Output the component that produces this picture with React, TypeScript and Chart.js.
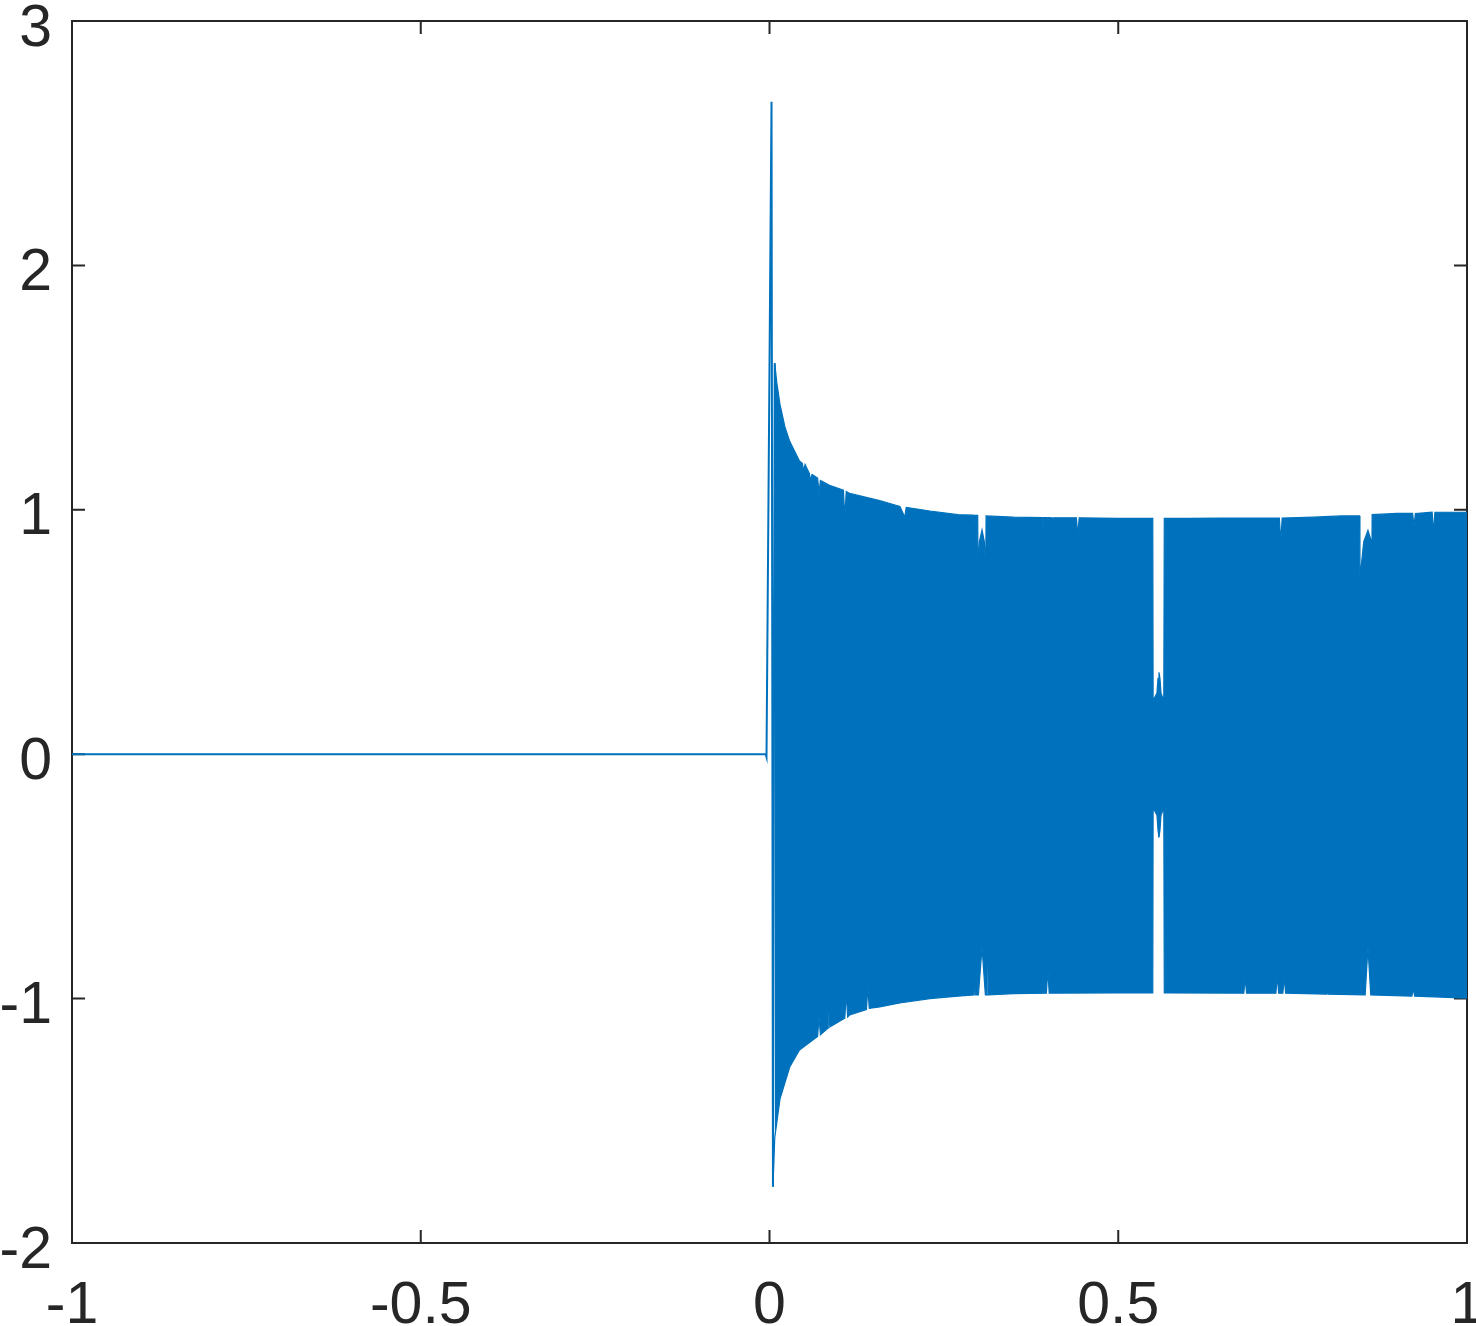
import React, { useEffect, useRef } from "react";
import { Chart, registerables } from "chart.js";

Chart.register(...registerables);

// Axis ticks
const xTickValues = [-1, -0.5, 0, 0.5, 1];
const yTickValues = [-2, -1, 0, 1, 2, 3];
const xTickLabels = ["-1", "-0.5", "0", "0.5", "1"];
const yTickLabels = ["-2", "-1", "0", "1", "2", "3"];

// Flat part and the initial spike
const leadX = [-1, -0.0055, -0.0043, 0.0029, 0.005, 0.0075];
const leadY = [0, 0, -0.012, 2.67, -1.77, 1.6];

// Upper envelope of the dense oscillation
const upperX = [
  0.0075, 0.0105, 0.0151, 0.022, 0.029, 0.043, 0.047, 0.049, 0.051, 0.057, 0.059, 0.061,
  0.069, 0.071, 0.073, 0.086, 0.106, 0.108, 0.11, 0.115, 0.158, 0.187, 0.194, 0.196,
  0.23, 0.27, 0.292, 0.293, 0.294, 0.2985, 0.299, 0.301, 0.3047, 0.308, 0.31, 0.3105,
  0.35, 0.391, 0.392, 0.393, 0.398, 0.399, 0.4, 0.405, 0.406, 0.407, 0.44, 0.442,
  0.444, 0.5, 0.5495, 0.55, 0.5555, 0.557, 0.5584, 0.5598, 0.5613, 0.5653, 0.566, 0.6,
  0.65, 0.7, 0.731, 0.733, 0.735, 0.78, 0.82, 0.846, 0.8465, 0.852, 0.858, 0.863,
  0.8635, 0.864, 0.9, 0.922, 0.924, 0.926, 0.95, 0.952, 0.954, 1.0,
];
const upperY = [
  1.6, 1.52, 1.43, 1.34, 1.28, 1.2, 1.19, 1.16, 1.185, 1.15, 1.12, 1.145,
  1.13, 1.07, 1.12, 1.1, 1.08, 0.965, 1.075, 1.067, 1.038, 1.014, 0.97, 1.01,
  0.995, 0.98, 0.978, 0.936, 0.977, 0.977, 0.75, 0.87, 0.918, 0.87, 0.75, 0.975,
  0.97, 0.968, 0.936, 0.968, 0.968, 0.945, 0.968, 0.967, 0.94, 0.967, 0.967, 0.895,
  0.967, 0.965, 0.965, 0.22, 0.25, 0.31, 0.335, 0.31, 0.25, 0.22, 0.965, 0.965,
  0.966, 0.966, 0.966, 0.867, 0.966, 0.97, 0.975, 0.975, 0.72, 0.87, 0.916, 0.87,
  0.72, 0.98, 0.985, 0.985, 0.935, 0.985, 0.99, 0.908, 0.99, 0.99,
];

// Lower envelope of the dense oscillation
const lowerX = [
  0.005, 0.0075, 0.0151, 0.029, 0.043, 0.069, 0.071, 0.073, 0.084, 0.085, 0.087, 0.108,
  0.11, 0.112, 0.115, 0.139, 0.141, 0.143, 0.158, 0.187, 0.23, 0.27, 0.293, 0.294,
  0.295, 0.2995, 0.3047, 0.3095, 0.312, 0.313, 0.314, 0.35, 0.397, 0.399, 0.401, 0.5,
  0.5495, 0.55, 0.5555, 0.557, 0.5584, 0.5598, 0.5613, 0.5653, 0.566, 0.68, 0.682, 0.684,
  0.726, 0.728, 0.73, 0.736, 0.738, 0.74, 0.799, 0.8, 0.801, 0.854, 0.858, 0.862,
  0.921, 0.923, 0.925, 1.0,
];
const lowerY = [
  -1.77, -1.57, -1.41, -1.28, -1.21, -1.155, -1.075, -1.148, -1.12, -1.055, -1.115, -1.08,
  -0.973, -1.075, -1.067, -1.045, -0.952, -1.04, -1.034, -1.018, -1.0, -0.99, -0.985, -0.875,
  -0.985, -0.985, -0.79, -0.985, -0.985, -0.85, -0.985, -0.98, -0.978, -0.88, -0.978, -0.977,
  -0.977, -0.22, -0.25, -0.31, -0.34, -0.31, -0.25, -0.22, -0.977, -0.978, -0.916, -0.978,
  -0.978, -0.907, -0.978, -0.978, -0.915, -0.978, -0.982, -0.95, -0.982, -0.985, -0.79, -0.985,
  -0.99, -0.96, -0.99, -0.998,
];

const BLUE = "#0072BD";
const AXIS = "#262626";
const FONT = "'Liberation Sans', Arial, Helvetica, sans-serif";
const FONT_SIZE = 59;

const toPts = (xs: number[], ys: number[]) => xs.map((x, i) => ({ x, y: ys[i] }));

// Box and inward tick marks, drawn beneath the data (like MATLAB's bottom layer)
const framePlugin = {
  id: "matlabFrame",
  beforeDatasetsDraw(chart: any) {
    const { ctx, chartArea } = chart;
    const { left, right, top, bottom } = chartArea;
    const xs = chart.scales.x;
    const ys = chart.scales.y;
    const tl = 13;
    ctx.save();
    ctx.strokeStyle = AXIS;
    ctx.lineWidth = 2;
    ctx.beginPath();
    xTickValues.forEach((v) => {
      const px = xs.getPixelForValue(v);
      ctx.moveTo(px, bottom);
      ctx.lineTo(px, bottom - tl);
      ctx.moveTo(px, top);
      ctx.lineTo(px, top + tl);
    });
    yTickValues.forEach((v) => {
      const py = ys.getPixelForValue(v);
      ctx.moveTo(left, py);
      ctx.lineTo(left + tl, py);
      ctx.moveTo(right, py);
      ctx.lineTo(right - tl, py);
    });
    ctx.stroke();
    ctx.strokeRect(left, top, right - left, bottom - top);
    ctx.restore();
  },
  afterDraw(chart: any) {
    const { ctx, chartArea } = chart;
    const xs = chart.scales.x;
    const ys = chart.scales.y;
    ctx.save();
    ctx.fillStyle = AXIS;
    ctx.font = `${FONT_SIZE}px ${FONT}`;
    ctx.textBaseline = "alphabetic";
    ctx.textAlign = "center";
    xTickValues.forEach((v, i) => {
      const px = xs.getPixelForValue(v);
      ctx.fillText(xTickLabels[i], px, chartArea.bottom + 80);
    });
    ctx.textAlign = "right";
    yTickValues.forEach((v, i) => {
      const py = ys.getPixelForValue(v);
      ctx.fillText(yTickLabels[i], chartArea.left - 20, py + 24.5);
    });
    ctx.restore();
  },
};

export default function App() {
  const ref = useRef<HTMLCanvasElement | null>(null);

  useEffect(() => {
    if (!ref.current) return;
    const chart = new Chart(ref.current, {
      type: "line",
      data: {
        datasets: [
          {
            data: toPts(leadX, leadY),
            borderColor: BLUE,
            borderWidth: 2,
            pointRadius: 0,
            fill: false,
            tension: 0,
          },
          {
            data: toPts(upperX, upperY),
            borderColor: BLUE,
            backgroundColor: BLUE,
            borderWidth: 1.2,
            pointRadius: 0,
            fill: "+1",
            tension: 0,
          },
          {
            data: toPts(lowerX, lowerY),
            borderColor: BLUE,
            backgroundColor: BLUE,
            borderWidth: 1.2,
            pointRadius: 0,
            fill: false,
            tension: 0,
          },
        ],
      },
      options: {
        animation: false,
        responsive: false,
        devicePixelRatio: 1,
        events: [],
        layout: { padding: { top: 21, right: 9, left: 0, bottom: 0 } },
        plugins: {
          legend: { display: false },
          tooltip: { enabled: false },
          title: { display: false },
        },
        scales: {
          x: {
            type: "linear",
            min: -1,
            max: 1,
            grid: { display: false, drawTicks: false },
            border: { display: false },
            ticks: { display: false },
            afterFit: (s: any) => {
              s.height = 83;
              s.paddingLeft = 0;
              s.paddingRight = 0;
              s.paddingTop = 0;
              s.paddingBottom = 0;
            },
          },
          y: {
            type: "linear",
            min: -2,
            max: 3,
            grid: { display: false, drawTicks: false },
            border: { display: false },
            ticks: { display: false },
            afterFit: (s: any) => {
              s.width = 72;
              s.paddingLeft = 0;
              s.paddingRight = 0;
              s.paddingTop = 0;
              s.paddingBottom = 0;
            },
          },
        },
      },
      plugins: [framePlugin],
    });
    return () => chart.destroy();
  }, []);

  return (
    <div
      style={{
        position: "fixed",
        left: 0,
        top: 0,
        width: 1476,
        height: 1326,
        background: "#ffffff",
      }}
    >
      <canvas ref={ref} width={1476} height={1326} style={{ display: "block" }} />
    </div>
  );
}
